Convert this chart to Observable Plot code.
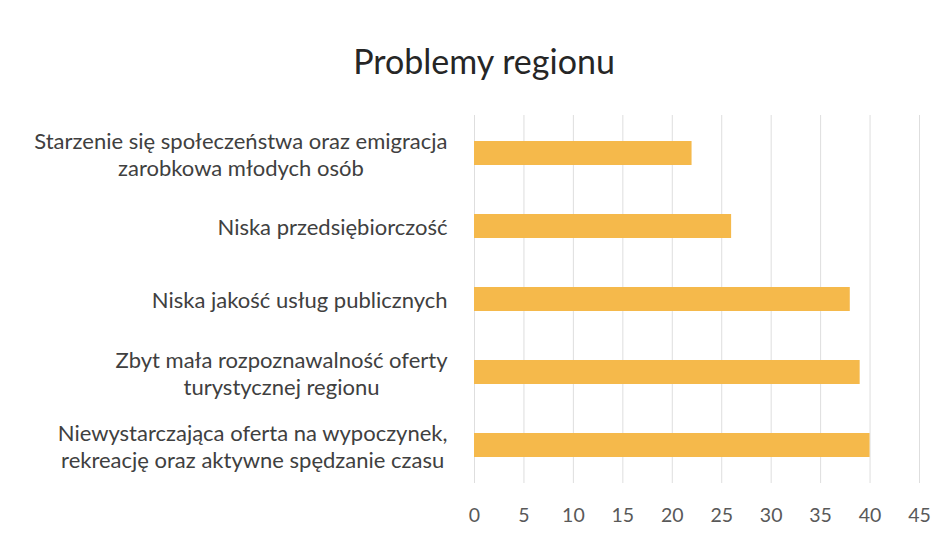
<!DOCTYPE html>
<html>
<head>
<meta charset="utf-8">
<script src="https://cdn.jsdelivr.net/npm/d3@7"></script>
<script src="https://cdn.jsdelivr.net/npm/@observablehq/plot@0.6"></script>
<style>
  html, body { margin: 0; padding: 0; background: #fff; }
  #wrap { position: relative; width: 948px; height: 536px; overflow: hidden; }
  #title { position: absolute; left: 0; width: 968px; top: 40px; text-align: center;
           font-family: Lato, "Open Sans", sans-serif; font-size: 34px; color: #262626; line-height: 42px; }
  #chart { position: absolute; left: 0; top: 100px; }
</style>
</head>
<body>
<div id="wrap">
  <div id="title">Problemy regionu</div>
  <div id="chart"></div>
</div>
<script>
const categories = [
  "Starzenie się społeczeństwa oraz emigracja\nzarobkowa młodych osób",
  "Niska przedsiębiorczość",
  "Niska jakość usług publicznych",
  "Zbyt mała rozpoznawalność oferty\nturystycznej regionu",
  "Niewystarczająca oferta na wypoczynek,\nrekreację oraz aktywne spędzanie czasu"
];
const values = [22, 26, 38, 39, 40];
const xTicks = [0, 5, 10, 15, 20, 25, 30, 35, 40, 45];

const data = categories.map((c, i) => ({category: c, value: values[i]}));

const chart = Plot.plot({
  width: 948,
  height: 436,
  marginTop: 15,
  marginBottom: 53,
  marginLeft: 474,
  marginRight: 29,
  style: {fontFamily: "Lato, 'Open Sans', sans-serif", background: "#fff"},
  x: {domain: [0, 45], ticks: xTicks},
  y: {domain: categories, paddingInner: 0.675, paddingOuter: 0.33},
  marks: [
    Plot.gridX(xTicks, {stroke: "#dedede", strokeOpacity: 1}),
    Plot.barX(data, {x: "value", y: "category", fill: "#F5B94B"}),
    Plot.axisX(xTicks, {tickSize: 0, tickPadding: 25, fontSize: 19.5, fill: "#595959", label: null}),
    Plot.axisY({tickSize: 0, tickPadding: 27, fontSize: 22, fill: "#404040", label: null, lineHeight: 1.25})
  ]
});
document.getElementById("chart").appendChild(chart);

// center multi-line y tick labels as a block (as in the original)
chart.querySelectorAll('g[aria-label="y-axis tick label"] text').forEach(t => {
  const spans = t.querySelectorAll("tspan");
  if (spans.length > 1) {
    let w = 0;
    spans.forEach(s => { w = Math.max(w, s.getComputedTextLength()); });
    t.setAttribute("text-anchor", "middle");
    spans.forEach(s => s.setAttribute("x", -w / 2));
  }
});
</script>
</body>
</html>
